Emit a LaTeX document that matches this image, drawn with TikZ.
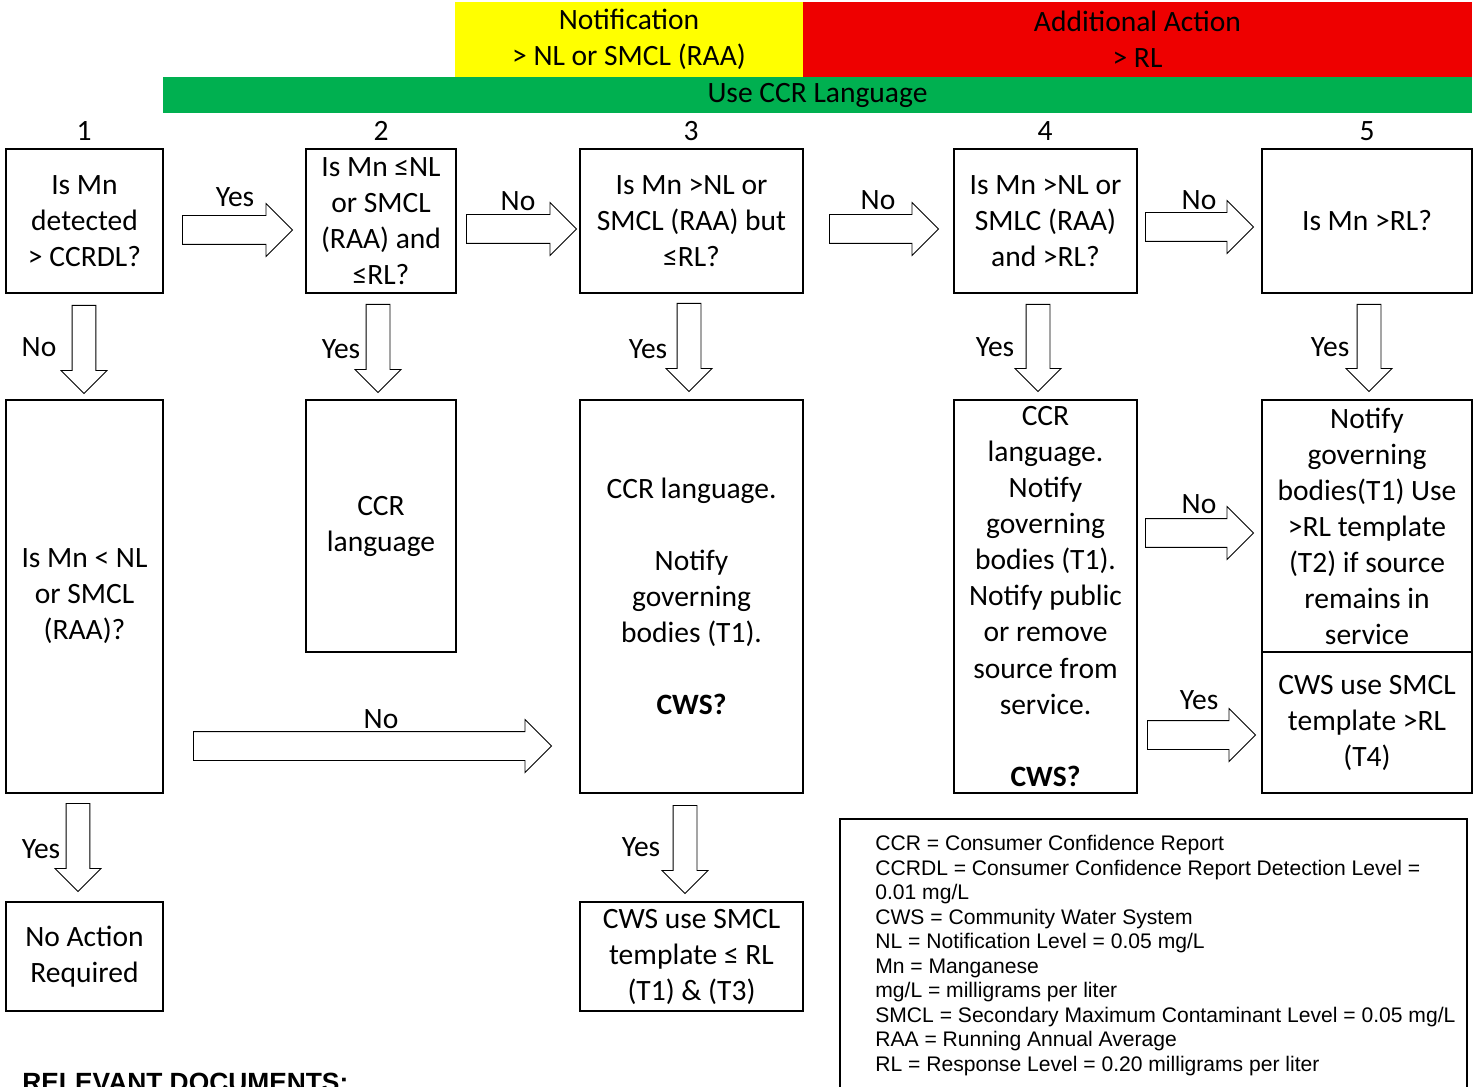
\documentclass[tikz,border=0pt]{standalone}
\usepackage{fontspec}
\setmainfont{Carlito}
\newfontfamily\legendfont{Liberation Sans}
\usetikzlibrary{shapes.arrows}

\definecolor{notifyyellow}{HTML}{FFFF00}
\definecolor{actionred}{HTML}{EE0000}
\definecolor{ccrgreen}{HTML}{00B050}

\begin{document}
\begin{tikzpicture}[x=0.02cm, y=-0.02cm, font=\fontsize{16.8}{20.5}\selectfont]
  \tikzset{
    sz/.style 2 args={minimum width=#1*0.02cm, minimum height=#2*0.02cm},
    box/.style={draw, line width=1.2pt, inner sep=0pt, align=center},
    band/.style={inner sep=0pt, align=center},
    blockr/.style={single arrow, draw, line width=0.5pt, fill=white, inner sep=0.28cm,
      single arrow head extend=0.24cm, minimum width=0pt, anchor=tail},
    blockd/.style={blockr, rotate=-90, inner sep=0.23cm, single arrow head extend=0.22cm},
    lbl/.style={inner sep=1pt}
  }
  \useasboundingbox (0,0) rectangle (1476,1087);
  % header bands
  \node[band, sz={348}{75}, fill=notifyyellow] (notify) at (629,39.5) {Notification\\> NL or SMCL (RAA)};
  \node[band, sz={669}{75}, fill=actionred] (action) at (1137.5,39.5) {Additional Action\\> RL};
  \node[band, sz={1309}{36}, fill=ccrgreen] (ccrband) at (817.5,95) {Use CCR Language};
  \foreach \n/\x in {1/84, 2/381, 3/691, 4/1045, 5/1367}
    \node (num\n) at (\x,131) {\n};

  % decision row
  \node[box, sz={157}{144}] (b1) at (84.5,221) {Is Mn\\detected\\> CCRDL?};
  \node[box, sz={150}{144}] (b2) at (381,221) {Is Mn ≤NL\\or SMCL\\(RAA) and\\≤RL?};
  \node[box, sz={223}{144}] (b3) at (691.5,221) {Is Mn >NL or\\SMCL (RAA) but\\≤RL?};
  \node[box, sz={183}{144}] (b4) at (1045.5,221) {Is Mn >NL or\\SMLC (RAA)\\and >RL?};
  \node[box, sz={210}{144}] (b5) at (1367,221) {Is Mn >RL?};

  % action row
  \node[box, sz={157}{393}] (b6) at (84.5,596.5) {Is Mn < NL\\or SMCL\\(RAA)?};
  \node[box, sz={150}{252}] (b7) at (381,526) {CCR\\language};
  \node[box, sz={223}{393}] (b8) at (691.5,596.5) {CCR language.\\[20.5pt]Notify\\governing\\bodies (T1).\\[20.5pt]\textbf{CWS?}};
  \node[box, sz={183}{393}] (b9) at (1045.5,596.5) {CCR\\language.\\Notify\\governing\\bodies (T1).\\Notify public\\or remove\\source from\\service.\\[20.5pt]\textbf{CWS?}};
  \node[box, sz={210}{252}] (b10) at (1367,526) {Notify\\governing\\bodies(T1) Use\\>RL template\\(T2) if source\\remains in\\service};
  \node[box, sz={210}{141}] (b11) at (1367,722.5) {CWS use SMCL\\template >RL\\(T4)};
  \node[box, sz={157}{109}] (b12) at (84.5,956.5) {No Action\\Required};
  \node[box, sz={223}{109}] (b13) at (691.5,956.5) {CWS use SMCL\\template ≤ RL\\(T1) \& (T3)};

  % block arrows: name/tail x/tail y/length
  \foreach \nm/\x/\y/\len in {a12/182/230/110, a23/466/229/110, a34/829/229/109, a45/1145/227/108,
      a68/193/746/358, a910/1145/533/108, a911/1147/735/108}
    \node[blockr, minimum height=\len*0.02cm] (\nm) at (\x,\y) {};
  \foreach \nm/\x/\y/\len in {a16/84/305/88, a27/378/304/88, a38/689/303/88, a49/1038/304/87,
      a510/1369/304/87, a612/78/803/88, a813/685/805/88}
    \node[blockd, minimum height=\len*0.02cm] (\nm) at (\x,\y) {};
  \foreach \nm/\x/\y/\t in {l12/235/197/Yes, l23/518/201/No, l34/878/200/No, l45/1199/200/No,
      l16/39/347/No, l27/341/349/Yes, l38/648/349/Yes, l49/995/347/Yes, l510/1330/347/Yes,
      l68/381/719/No, l910/1199/504/No, l911/1199/700/Yes, l612/41/849/Yes, l813/641/847/Yes}
    \node[lbl] (\nm) at (\x,\y) {\t};

  % abbreviations
  \node[draw, line width=0.8pt, inner sep=0pt, sz={627}{291}] (legend) at (1153.5,964.5) {};
  \node[anchor=north west, align=left, inner sep=0pt,
    font=\legendfont\fontsize{12}{13.95}\selectfont] (abbr) at (875,835)
    {CCR = Consumer Confidence Report\\
     CCRDL = Consumer Confidence Report Detection Level =\\
     0.01 mg/L\\
     CWS = Community Water System\\
     NL = Notification Level = 0.05 mg/L\\
     Mn = Manganese\\
     mg/L = milligrams per liter\\
     SMCL = Secondary Maximum Contaminant Level = 0.05 mg/L\\
     RAA = Running Annual Average\\
     RL = Response Level = 0.20 milligrams per liter};
  \node[anchor=base west, inner sep=0pt, font=\legendfont\bfseries\fontsize{15}{18}\selectfont]
    (reldocs) at (22,1091) {RELEVANT DOCUMENTS:};
\end{tikzpicture}
\end{document}
